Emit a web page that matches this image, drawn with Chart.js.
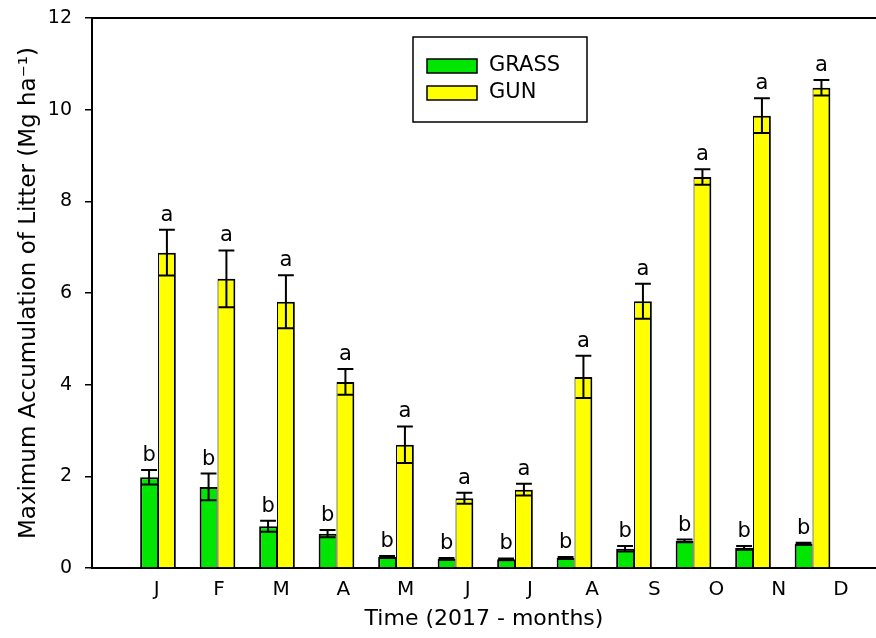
<!DOCTYPE html>
<html>
<head>
<meta charset="utf-8">
<script src="https://cdn.jsdelivr.net/npm/chart.js@4.4.1/dist/chart.umd.min.js"></script>
<style>
  body { margin: 0; background: #fff; overflow: hidden; }
  #wrap { width: 876px; height: 638px; }
</style>
</head>
<body>
<div id="wrap"><canvas id="myChart"></canvas></div>
<script>
// values (Mg ha-1)
var months = ['J', 'F', 'M', 'A', 'M', 'J', 'J', 'A', 'S', 'O', 'N', 'D']
var grass = [1.98, 1.77, 0.91, 0.75, 0.24, 0.20, 0.19, 0.22, 0.42, 0.59, 0.44, 0.53]
var grassErr = [0.16, 0.29, 0.12, 0.08, 0.02, 0.02, 0.02, 0.02, 0.06, 0.03, 0.04, 0.02]
var gun = [6.88, 6.31, 5.81, 4.06, 2.69, 1.52, 1.71, 4.17, 5.82, 8.53, 9.87, 10.48]
var gunErr = [0.50, 0.62, 0.58, 0.28, 0.40, 0.12, 0.13, 0.46, 0.38, 0.17, 0.38, 0.17]
var grassLetters = ['b', 'b', 'b', 'b', 'b', 'b', 'b', 'b', 'b', 'b', 'b', 'b']
var gunLetters = ['a', 'a', 'a', 'a', 'a', 'a', 'a', 'a', 'a', 'a', 'a', 'a']
var yTicks = [0, 2, 4, 6, 8, 10, 12]

var FONT = 'DejaVu Sans'
Chart.defaults.font.family = FONT
Chart.defaults.color = '#000'

function pts(vals) {
    return vals.map(function(v, i) { return {x: i, y: v} })
}

// error bars with caps and the a/b letters above them
var errorBars = {
    id: 'errorBars',
    afterDatasetsDraw: function(chart) {
        var ctx = chart.ctx
        var y = chart.scales.y
        var errs = [grassErr, gunErr]
        var letters = [grassLetters, gunLetters]
        ctx.save()
        ctx.strokeStyle = '#000'
        ctx.lineWidth = 2
        ctx.fillStyle = '#000'
        ctx.font = '21px ' + FONT
        ctx.textAlign = 'center'
        ctx.textBaseline = 'alphabetic'
        chart.data.datasets.forEach(function(ds, d) {
            chart.getDatasetMeta(d).data.forEach(function(bar, i) {
                var v = ds.data[i].y
                var e = errs[d][i]
                var top = y.getPixelForValue(v + e)
                var bot = y.getPixelForValue(v - e)
                var hw = bar.width / 2 - 1
                ctx.beginPath()
                ctx.moveTo(bar.x, top)
                ctx.lineTo(bar.x, bot)
                ctx.moveTo(bar.x - hw, top)
                ctx.lineTo(bar.x + hw, top)
                ctx.moveTo(bar.x - hw, bot)
                ctx.lineTo(bar.x + hw, bot)
                ctx.stroke()
                ctx.fillText(letters[d][i], bar.x, top - 9)
            })
        })
        ctx.restore()
    }
}

// boxed legend inside the plot
var boxLegend = {
    id: 'boxLegend',
    afterDraw: function(chart) {
        var ctx = chart.ctx
        ctx.save()
        ctx.lineWidth = 1.5
        ctx.strokeStyle = '#000'
        ctx.strokeRect(413, 37, 174, 85)
        ctx.font = '21px ' + FONT
        ctx.textBaseline = 'middle'
        chart.data.datasets.forEach(function(ds, d) {
            var ry = 59 + d * 27
            ctx.fillStyle = ds.backgroundColor
            ctx.fillRect(427, ry, 50, 14)
            ctx.strokeRect(427, ry, 50, 14)
            ctx.fillStyle = '#000'
            ctx.fillText(ds.label, 489, ry + 7)
        })
        ctx.restore()
    }
}

var ctx = document.getElementById('myChart')

var myChart = new Chart(ctx, {
    type: 'bar',
    data: {
        datasets: [
            {
                label: 'GRASS',
                data: pts(grass),
                backgroundColor: '#00e600',
                borderColor: '#000',
                borderWidth: {left: 2, right: 1, top: 2, bottom: 0}
            },
            {
                label: 'GUN',
                data: pts(gun),
                backgroundColor: '#ffff00',
                borderColor: '#000',
                borderWidth: {left: 1, right: 2, top: 2, bottom: 0}
            }
        ]
    },
    options: {
        responsive: true,
        maintainAspectRatio: false,
        animation: false,
        devicePixelRatio: 1,
        layout: {padding: 0},
        datasets: {
            bar: {categoryPercentage: 0.6, barPercentage: 1.0, borderSkipped: 'start'}
        },
        plugins: {
            legend: {display: false},
            tooltip: {enabled: false}
        },
        scales: {
            x: {
                type: 'linear',
                min: -1.109,
                max: 12.067,
                offset: false,
                grid: {offset: false},
                display: false
            },
            xLabels: {
                type: 'linear',
                position: 'bottom',
                min: -1.042,
                max: 11.565,
                offset: false,
                afterBuildTicks: function(s) {
                    s.ticks = months.map(function(m, i) { return {value: i} })
                },
                afterFit: function(s) { s.height = 70 },
                grid: {display: false, drawTicks: false, offset: false},
                border: {display: true, color: '#000', width: 2},
                ticks: {
                    autoSkip: false,
                    maxRotation: 0,
                    padding: 10,
                    font: {size: 20},
                    callback: function(v) { return months[v] }
                },
                title: {
                    display: true,
                    text: 'Time (2017 - months)',
                    font: {size: 22},
                    padding: {top: 0, bottom: 6}
                }
            },
            xTop: {
                type: 'linear',
                position: 'top',
                min: 0,
                max: 1,
                offset: false,
                afterFit: function(s) { s.height = 18 },
                grid: {display: false, offset: false},
                border: {display: true, color: '#000', width: 2},
                ticks: {display: false}
            },
            y: {
                min: 0,
                max: 12,
                afterBuildTicks: function(s) {
                    s.ticks = yTicks.map(function(v) { return {value: v} })
                },
                afterFit: function(s) {
                    s.width = 92
                    s.paddingTop = 0
                    s.paddingBottom = 0
                },
                grid: {
                    drawOnChartArea: false,
                    drawTicks: true,
                    tickLength: 7,
                    color: '#000',
                    lineWidth: 1.5
                },
                border: {display: true, color: '#000', width: 2},
                ticks: {padding: 13, font: {size: 19}},
                title: {
                    display: true,
                    text: 'Maximum Accumulation of Litter (Mg ha\u207B\u00B9)',
                    font: {size: 23},
                    padding: {top: 15, bottom: 0}
                }
            }
        }
    },
    plugins: [errorBars, boxLegend]
})
</script>
</body>
</html>
